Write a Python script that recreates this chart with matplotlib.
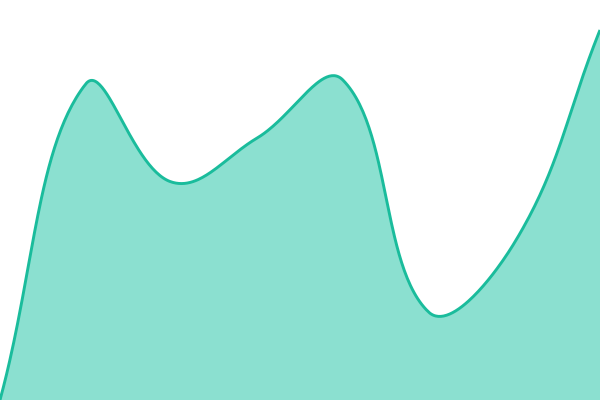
import numpy as np
import matplotlib
matplotlib.use("Agg")
from matplotlib import pyplot as plt

# data (chart has no visible axes; range 0..400)
x_idx = [0, 1, 2, 3, 4, 5, 6, 7]
values = [0, 316, 218, 262, 320, 88, 157, 370]

line_color = "#1abc9c"
fill_color = "#8be0d0"
tension = 0.4


# chart.js-like spline (control points weighted by segment lengths)
def smooth(xs, ys, t=0.4, n=60):
    # work in pixel units so the weighting matches the picture
    pts = np.column_stack([np.asarray(xs, float) * 600 / 7, ys]).astype(float)
    k = len(pts)
    cin, cout = [], []
    for i in range(k):
        prev = pts[max(i - 1, 0)]
        cur = pts[i]
        nxt = pts[min(i + 1, k - 1)]
        d01 = np.hypot(*(cur - prev))
        d12 = np.hypot(*(nxt - cur))
        s01 = d01 / (d01 + d12) if d01 + d12 else 0
        s12 = d12 / (d01 + d12) if d01 + d12 else 0
        cin.append(cur - t * s01 * (nxt - prev))
        cout.append(cur + t * s12 * (nxt - prev))
    out = []
    tt = np.linspace(0, 1, n)[:, None]
    for i in range(k - 1):
        p1, c1, c2, p2 = pts[i], cout[i], cin[i + 1], pts[i + 1]
        seg = ((1 - tt) ** 3) * p1 + 3 * ((1 - tt) ** 2) * tt * c1 \
            + 3 * (1 - tt) * tt ** 2 * c2 + tt ** 3 * p2
        out.append(seg if i == 0 else seg[1:])
    out = np.vstack(out)
    return out[:, 0] * 7 / 600, out[:, 1]


sx, sy = smooth(x_idx, values, tension)

fig = plt.figure(figsize=(6, 4), dpi=100)
ax = fig.add_axes([0, 0, 1, 1])
ax.fill_between(sx, sy, 0, color=fill_color, lw=0)
ax.plot(sx, sy, color=line_color, lw=2.1, solid_capstyle="butt")
ax.set_xlim(0, 7)
ax.set_ylim(0, 400)
ax.axis("off")

plt.savefig("out.png", dpi=100)
